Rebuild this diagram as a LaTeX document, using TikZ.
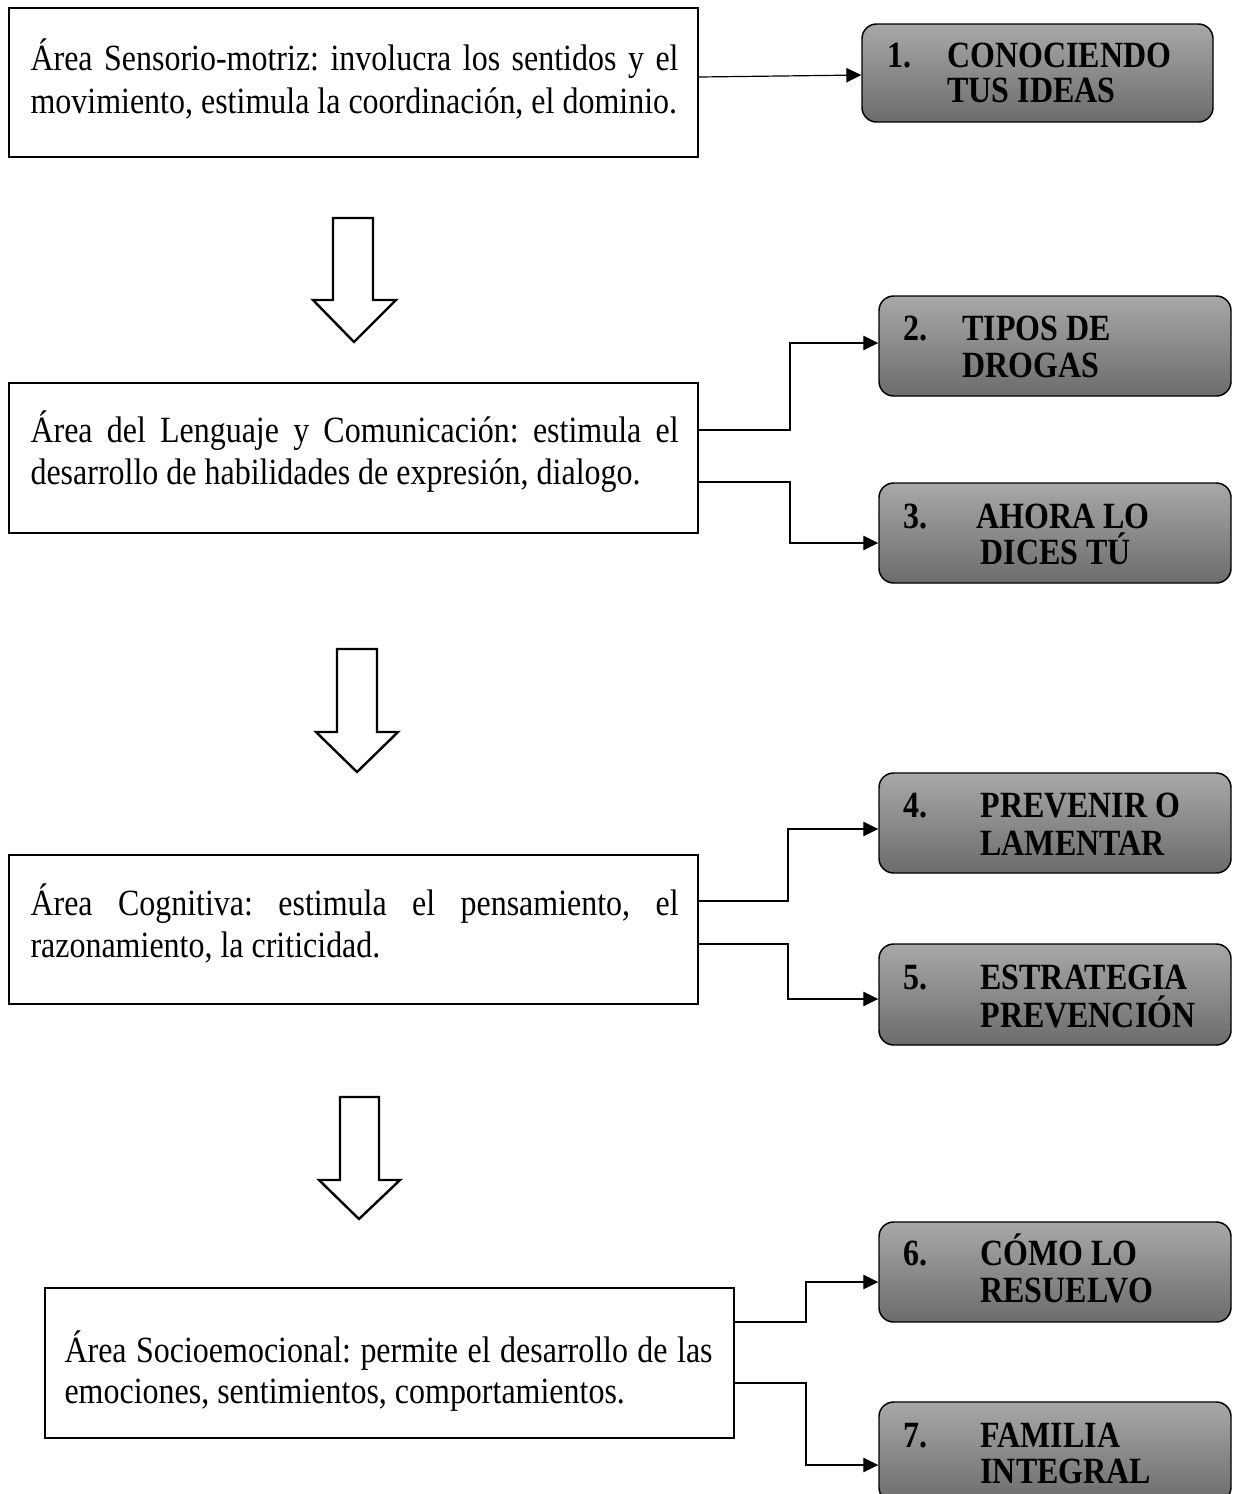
\documentclass[tikz,border=0pt]{standalone}
\usepackage{graphicx}
\usepackage{fontspec}
\setmainfont{Liberation Serif}
\usetikzlibrary{arrows.meta,fit}
\definecolor{gtop}{RGB}{168,168,168}
\definecolor{gbot}{RGB}{108,108,108}
\newcommand{\squeezed}[1]{\scalebox{0.865}[1]{#1}}
\frenchspacing
\begin{document}
\begin{tikzpicture}[x=0.376pt,y=-0.376pt,
  area/.style={draw, line width=0.55pt, inner sep=0pt, fill=white},
  gbox/.style={draw, line width=0.55pt, inner sep=0pt, rounded corners=5.5pt, top color=gtop, bottom color=gbot},
  conn/.style={line width=0.45pt, -{Triangle[length=5.6pt,width=5.4pt]}},
  hollow/.style={draw, line width=0.9pt, fill=white, line join=miter},
  txt/.style={anchor=base west, inner sep=0pt, font=\fontsize{13.9}{16}\selectfont},
  btxt/.style={anchor=base west, inner sep=0pt, font=\fontsize{13.9}{16}\selectfont\bfseries},
]
\useasboundingbox (0,0) rectangle (1235,1494);

% white area boxes
\node[area, fit={(9,8) (698,157)}] (b1) {};
\node[area, fit={(9,383) (698,533)}] (b2) {};
\node[area, fit={(9,855) (698,1004)}] (b3) {};
\node[area, fit={(45,1288) (734,1438)}] (b4) {};

\node[txt] (t1a) at (30,70) {\squeezed{\makebox[281.7pt][s]{Área Sensorio-motriz: involucra los sentidos y el}}};
\node[txt] (t1b) at (30,113) {\squeezed{movimiento, estimula la coordinación, el dominio.}};
\node[txt] (t2a) at (30,442) {\squeezed{\makebox[281.7pt][s]{Área del Lenguaje y Comunicación: estimula el}}};
\node[txt] (t2b) at (30,484) {\squeezed{desarrollo de habilidades de expresión, dialogo.}};
\node[txt] (t3a) at (30,915) {\squeezed{\makebox[281.7pt][s]{Área Cognitiva: estimula el pensamiento, el}}};
\node[txt] (t3b) at (30,957) {\squeezed{razonamiento, la criticidad.}};
\node[txt] (t4a) at (64,1362) {\squeezed{\makebox[281.7pt][s]{Área Socioemocional: permite el desarrollo de las}}};
\node[txt] (t4b) at (64,1403) {\squeezed{emociones, sentimientos, comportamientos.}};

% gray boxes
\node[gbox, fit={(862,24) (1213,122)}] (g1) {};
\node[gbox, fit={(879,296) (1231,396)}] (g2) {};
\node[gbox, fit={(879,483) (1231,583)}] (g3) {};
\node[gbox, fit={(879,773) (1231,873)}] (g4) {};
\node[gbox, fit={(879,944) (1231,1045)}] (g5) {};
\node[gbox, fit={(879,1222) (1231,1322)}] (g6) {};
\node[gbox, fit={(879,1402) (1231,1502)}] (g7) {};

\node[btxt] (n1) at (887,67) {\squeezed{1.}};
\node[btxt] (l1a) at (947,67) {\squeezed{CONOCIENDO}};
\node[btxt] (l1b) at (947,102) {\squeezed{TUS IDEAS}};
\node[btxt] (n2) at (903,340) {\squeezed{2.}};
\node[btxt] (l2a) at (962,340) {\squeezed{TIPOS DE}};
\node[btxt] (l2b) at (962,377) {\squeezed{DROGAS}};
\node[btxt] (n3) at (903,528) {\squeezed{3.}};
\node[btxt] (l3a) at (976,528) {\squeezed{AHORA LO}};
\node[btxt] (l3b) at (980,564) {\squeezed{DICES TÚ}};
\node[btxt] (n4) at (903,817) {\squeezed{4.}};
\node[btxt] (l4a) at (980,817) {\squeezed{PREVENIR O}};
\node[btxt] (l4b) at (980,855) {\squeezed{LAMENTAR}};
\node[btxt] (n5) at (903,989) {\squeezed{5.}};
\node[btxt] (l5a) at (980,989) {\squeezed{ESTRATEGIA}};
\node[btxt] (l5b) at (980,1027) {\squeezed{PREVENCIÓN}};
\node[btxt] (n6) at (903,1265) {\squeezed{6.}};
\node[btxt] (l6a) at (980,1265) {\squeezed{CÓMO LO}};
\node[btxt] (l6b) at (980,1302) {\squeezed{RESUELVO}};
\node[btxt] (n7) at (903,1447) {\squeezed{7.}};
\node[btxt] (l7a) at (980,1447) {\squeezed{FAMILIA}};
\node[btxt] (l7b) at (980,1483) {\squeezed{INTEGRAL}};

% hollow down arrows
\draw[hollow] (333,218) -- (373,218) -- (373,300) -- (396,300) -- (354,342) -- (313,300) -- (333,300) -- cycle;
\draw[hollow] (337,649) -- (377,649) -- (377,732) -- (398,732) -- (357,772) -- (316,732) -- (337,732) -- cycle;
\draw[hollow] (340,1097) -- (379,1097) -- (379,1180) -- (400,1180) -- (359,1219) -- (319,1180) -- (340,1180) -- cycle;

% connectors
\coordinate (p1) at (b1.east |- 0,77);
\draw[conn] (p1) -- (g1.west |- 0,75);

\coordinate (m2) at (790,0);
\coordinate (p2a) at (b2.east |- 0,430);
\coordinate (p2b) at (b2.east |- 0,482);
\draw[conn] (p2a) -- (p2a -| m2) |- (g2.west |- 0,343);
\draw[conn] (p2b) -- (p2b -| m2) |- (g3.west |- 0,543);

\coordinate (m3) at (788,0);
\coordinate (p3a) at (b3.east |- 0,901);
\coordinate (p3b) at (b3.east |- 0,944);
\draw[conn] (p3a) -- (p3a -| m3) |- (g4.west |- 0,829);
\draw[conn] (p3b) -- (p3b -| m3) |- (g5.west |- 0,999);

\coordinate (m4) at (806,0);
\coordinate (p4a) at (b4.east |- 0,1322);
\coordinate (p4b) at (b4.east |- 0,1383);
\draw[conn] (p4a) -- (p4a -| m4) |- (g6.west |- 0,1282);
\draw[conn] (p4b) -- (p4b -| m4) |- (g7.west |- 0,1465);
\end{tikzpicture}
\end{document}
